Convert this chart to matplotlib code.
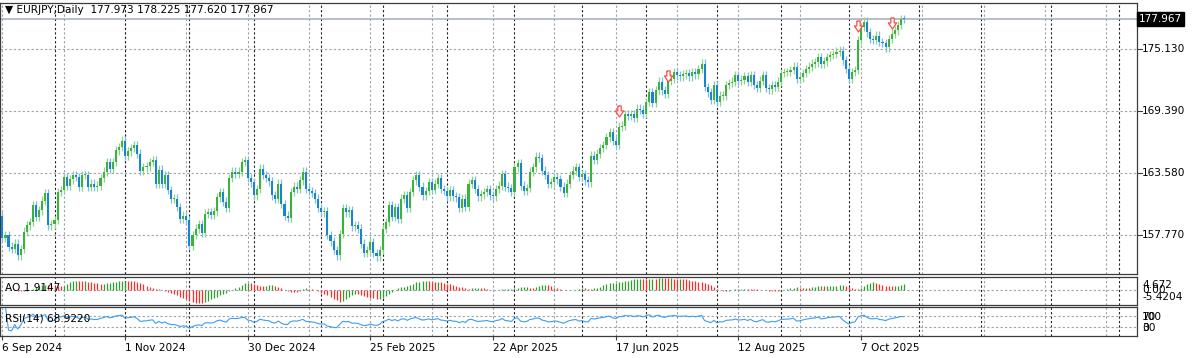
import matplotlib
matplotlib.use("Agg")
import matplotlib.pyplot as plt
from matplotlib.path import Path
import numpy as np
import pandas as pd

plt.rcParams['font.family'] = ['DejaVu Sans']

# values
symbol = "EURJPY,Daily"
start_date = "2024-09-06"
holidays = ["2024-12-25", "2025-01-01"]
first_open = 159.6
last_ohlc = [177.973, 178.225, 177.620, 177.967]

closes_sep_nov = [
    157.5, 157.8, 156.7, 156.5, 157.0, 155.9, 156.5, 158.1, 158.7, 159.0,
    160.6, 159.5, 160.1, 161.0, 161.7, 158.7, 158.8, 159.2, 161.8, 162.0,
    163.2, 162.4, 163.0, 163.4, 163.2, 162.3, 163.4, 163.4, 162.3, 162.6,
    162.3, 162.4, 163.1, 163.7, 164.6, 164.0, 164.6, 165.7, 166.0, 166.6,
    165.2, 165.6, 165.9, 166.2, 165.4, 163.8, 164.1, 164.2, 164.6, 164.8,
    162.6, 163.9, 162.6, 163.4, 162.0, 161.2, 161.2, 160.4, 159.3, 159.6,
]
closes_dec_feb = [
    159.2, 156.8, 157.8, 158.4, 158.8, 158.0, 159.8, 159.9, 159.7, 160.0,
    161.3, 161.8, 160.9, 160.3, 163.1, 163.7, 163.5, 163.7, 164.6, 164.8,
    163.1, 162.7, 161.5, 162.1, 164.0, 163.4, 163.1, 162.8, 161.5, 161.2,
    162.6, 160.7, 159.6, 159.4, 161.8, 162.3, 162.1, 162.9, 163.7, 162.1,
    161.9, 161.7, 161.2, 160.3, 159.9, 160.0, 157.8, 157.2, 156.4, 155.9,
    157.9, 160.3, 159.9, 160.1, 158.6, 158.7, 158.4, 157.0, 156.1,
]
closes_feb_may = [
    156.4, 157.1, 156.1, 155.8, 156.4, 158.4, 159.0, 160.6, 159.5, 160.4,
    159.3, 161.2, 161.5, 160.3, 161.8, 162.9, 163.4, 162.3, 161.5, 161.9,
    162.7, 162.0, 162.6, 163.1, 162.1, 161.9, 161.4, 162.0, 161.4, 161.3,
    160.3, 161.2, 160.4, 162.6, 162.9, 162.1, 161.4, 161.6, 161.8, 162.1,
    161.5, 161.4, 162.1, 162.4, 163.5, 162.3, 162.2, 161.8, 164.1, 164.5,
    162.4, 161.9, 162.2, 163.7, 164.1, 165.1, 165.0, 163.8,
]
closes_may_aug = [
    163.4, 162.6, 162.7, 163.2, 163.0, 162.3, 161.7, 162.6, 163.4, 163.8,
    164.1, 163.2, 163.5, 162.9, 162.7, 165.2, 164.8, 165.4, 165.9, 166.2,
    166.9, 167.4, 166.6, 166.2, 167.9, 168.0, 169.1, 168.9, 169.1, 168.7,
    169.6, 169.5, 169.1, 170.2, 171.1, 170.1, 171.3, 172.1, 171.3, 171.0,
    172.2, 172.4, 173.0, 172.7, 172.6, 172.8, 172.9, 172.6, 173.0, 172.8,
    173.3, 173.8, 171.6, 171.1, 170.4, 171.8, 170.2, 170.8, 170.8,
]
closes_aug_oct = [
    171.8, 172.0, 172.1, 172.7, 172.2, 172.3, 172.6, 172.1, 172.7, 171.8,
    171.5, 172.2, 172.7, 171.5, 171.4, 171.8, 171.6, 172.1, 172.9, 173.0,
    173.0, 173.2, 173.5, 172.4, 172.5, 172.9, 173.3, 173.5, 173.8, 173.9,
    174.4, 173.8, 174.0, 174.4, 174.6, 174.7, 174.9, 175.0, 174.1, 173.3,
    172.4, 173.0, 173.2,
]
closes_oct = [
    176.0, 177.2, 177.7, 176.7, 176.1, 176.0, 176.4, 175.8, 175.7, 175.3,
    176.1, 176.6, 176.9, 177.4, 177.973, 177.967,
]

price_ticks = [157.770, 163.580, 169.390, 175.130]
price_range = [154.16, 179.45]

arrow_bars = [201, 217, 279, 290]
arrow_prices = [169.4, 172.6, 177.3, 177.6]

ao_header = "AO 1.9147"
ao_scale = [-5.4204, 4.672]
ao_labels = ["4.672", "0.00", "-5.4204"]
rsi_header = "RSI(14) 68.9220"
rsi_levels = [30, 70]
rsi_labels = ["100", "70", "30", "0"]

UP = "#3cb13c"
DOWN = "#1a84cd"
UP_WICK = "#8fd28f"
DOWN_WICK = "#7fbbe6"
GRID = "#9aa2ae"
FRAME = "#3c3c3c"
FS = 7.6


def bar_dates(n):
    days = pd.bdate_range(start_date, periods=n + 10)
    days = days[~days.isin(pd.to_datetime(holidays))]
    return days[:n]


def awesome_oscillator(mid):
    s = pd.Series(mid)
    return (s.rolling(5, min_periods=1).mean() - s.rolling(34, min_periods=1).mean()).values


def rsi(closes, period=14):
    delta = pd.Series(closes).diff().fillna(0)
    gain = delta.clip(lower=0).ewm(alpha=1 / period, adjust=False).mean()
    loss = (-delta.clip(upper=0)).ewm(alpha=1 / period, adjust=False).mean()
    return (100 - 100 / (1 + gain / loss)).values


def style_panel(ax, n_slots, dates):
    ax.set_xlim(-0.78, n_slots)
    ax.set_facecolor("white")
    for sp in ax.spines.values():
        sp.set_color(FRAME)
        sp.set_linewidth(0.9)
    ax.tick_params(left=False, labelleft=False, bottom=False, labelbottom=False,
                   right=False, labelright=False)
    # gray grid every 20 bars, black separators at month starts
    for x in range(0, n_slots, 20):
        ax.axvline(x, color=GRID, lw=0.8, ls=(0, (2, 2)), zorder=0)
    months = dates.month
    for i in range(1, len(dates)):
        if months[i] != months[i - 1]:
            ax.axvline(i, color="#202020", lw=0.8, ls=(0, (2, 2)), zorder=0)


def main():
    closes = np.array(closes_sep_nov + closes_dec_feb + closes_feb_may
                      + closes_may_aug + closes_aug_oct + closes_oct)
    opens = np.concatenate([[first_open], closes[:-1]])
    n = len(closes)
    x = np.arange(n)
    n_slots = 370
    dates = bar_dates(n_slots)

    fig = plt.figure(figsize=(12, 3.58), dpi=100)
    W = 1137 / 1200
    ax = fig.add_axes([0.0, 1 - 274 / 358, W, 271 / 358])
    ax_ao = fig.add_axes([0.0, 1 - 305 / 358, W, 28 / 358])
    ax_rsi = fig.add_axes([0.0, 1 - 336 / 358, W, 29 / 358])
    for a in (ax, ax_ao, ax_rsi):
        style_panel(a, n_slots, dates)

    # price panel
    ax.set_ylim(*price_range)
    for p in price_ticks:
        ax.axhline(p, color=GRID, lw=0.8, ls=(0, (2, 2)), zorder=0)
    up = closes >= opens
    lo = np.minimum(opens, closes)
    hi = np.maximum(opens, closes)
    wick = 0.4
    ax.vlines(x[up], lo[up] - wick, hi[up] + wick, color=UP_WICK, lw=0.9, zorder=2)
    ax.vlines(x[~up], lo[~up] - wick, hi[~up] + wick, color=DOWN_WICK, lw=0.9, zorder=2)
    ax.bar(x, np.maximum(hi - lo, 0.09), bottom=lo, width=0.68,
           color=np.where(up, UP, DOWN), linewidth=0, zorder=3)

    # fractal style arrows
    arrow = Path([(-0.3, 1), (0.3, 1), (0.3, 0.1), (0.75, 0.1), (0, -1),
                  (-0.75, 0.1), (-0.3, 0.1), (-0.3, 1)])
    ax.plot(arrow_bars, arrow_prices, ls="none", marker=arrow, ms=8,
            mfc="white", mec="#ff4a4a", mew=0.9, zorder=4)

    ax.axhline(last_ohlc[3], color="#a3acb8", lw=1.1, zorder=1)
    ytr = ax.get_yaxis_transform()
    for p in price_ticks:
        ax.plot([1.0, 1.004], [p, p], transform=ytr, color=FRAME, lw=0.8, clip_on=False)
        ax.text(1.0045, p, f"{p:.3f}", transform=ytr, ha="left", va="center",
                fontsize=FS, color="black")
    ax.text(1.0015, last_ohlc[3], f"{last_ohlc[3]:.3f}", transform=ytr, ha="left",
            va="center", fontsize=FS, color="white",
            bbox=dict(boxstyle="square,pad=0.18", fc="black", ec="black"))
    head = "\u25bc " + symbol + "  " + " ".join(f"{v:.3f}" for v in last_ohlc)
    ax.text(0.004, 0.993, head, transform=ax.transAxes, ha="left", va="top",
            fontsize=FS, color="black")

    # awesome oscillator
    ao = awesome_oscillator((opens + closes) / 2)
    rising = np.concatenate([[True], ao[1:] > ao[:-1]])
    ax_ao.set_ylim(*ao_scale)
    ax_ao.axhline(0, color=GRID, lw=0.8, ls=(0, (2, 2)), zorder=0)
    ax_ao.vlines(x, 0, ao, colors=np.where(rising, "#2f9e2f", "#ff2b2b"), lw=0.9, zorder=2)
    btr = ax_ao.transAxes
    ax_ao.text(1.0045, 0.72, ao_labels[0], transform=btr, ha="left", va="center",
               fontsize=FS)
    ax_ao.text(1.0045, 0.0, ao_labels[1], transform=ax_ao.get_yaxis_transform(),
               ha="left", va="center", fontsize=FS)
    ax_ao.text(1.0045, 0.29, ao_labels[2], transform=btr, ha="left", va="center",
               fontsize=FS)
    ax_ao.text(0.004, 0.62, ao_header, transform=ax_ao.transAxes, ha="left",
               va="center", fontsize=FS)

    # rsi
    r = rsi(closes)
    ax_rsi.set_ylim(0, 100)
    for lv in rsi_levels:
        ax_rsi.axhline(lv, color=GRID, lw=0.8, ls=(0, (2, 2)), zorder=0)
    ax_rsi.plot(x, r, color="#3d9df0", lw=0.8, zorder=2)
    # MT4 stacks the scale labels of this tiny window on top of each other
    rtr = ax_rsi.transAxes
    for lab, yf in zip(rsi_labels, [0.66, 0.66, 0.27, 0.27]):
        ax_rsi.text(1.0045, yf, lab, transform=rtr, ha="left", va="center", fontsize=FS)
    ax_rsi.text(0.004, 0.6, rsi_header, transform=ax_rsi.transAxes, ha="left",
                va="center", fontsize=FS)

    # date axis
    ticks = list(range(0, n, 40))
    ax_rsi.tick_params(bottom=True, labelbottom=True, length=3, width=0.8,
                       color=FRAME, pad=2, labelsize=FS)
    ax_rsi.set_xticks(ticks)
    ax_rsi.set_xticklabels([f"{dates[t].day} {dates[t]:%b %Y}" for t in ticks], ha="left")
    ax_rsi.set_xlim(-0.78, n_slots)

    fig.savefig("out.png", dpi=100, facecolor="white")


if __name__ == "__main__":
    main()
